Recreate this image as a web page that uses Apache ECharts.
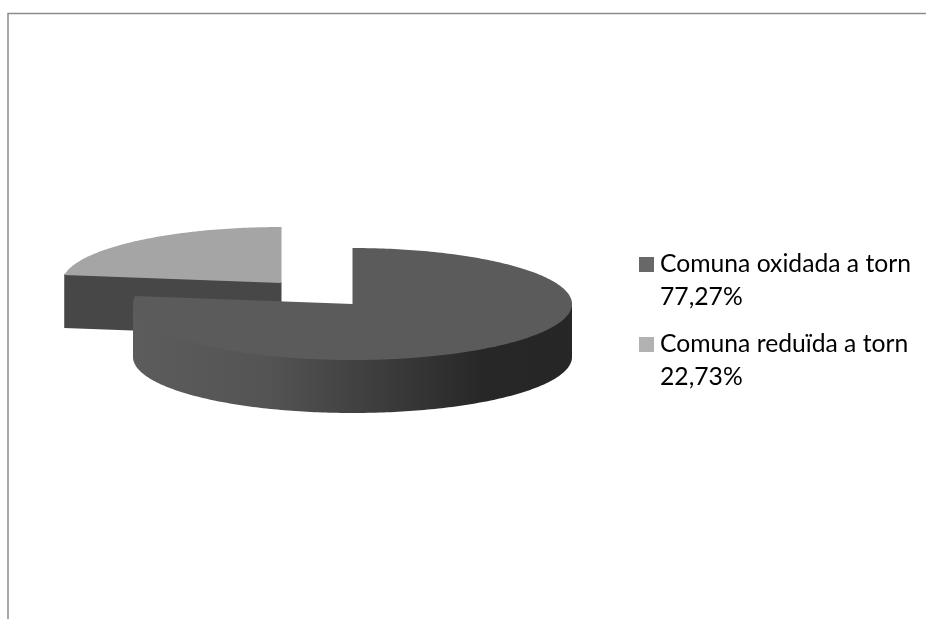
<!DOCTYPE html>
<html>
<head>
<meta charset="utf-8">
<style>html,body{margin:0;padding:0;background:#fff}#c{width:926px;height:619px}</style>
<script src="https://cdn.jsdelivr.net/npm/echarts@6/dist/echarts.min.js"></script>
</head>
<body>
<div id="c"></div>
<script>
var categories = ['Comuna oxidada a torn', 'Comuna reduïda a torn'];
var percentLabels = ['77,27%', '22,73%'];
var values = [77.27, 22.73];

var total = values[0] + values[1];
var rx = 219.5, ry = 56, depth = 53;
var slices = [
  {cx: 352.5, cy: 304, from: 0, top: '#5b5b5b', legend: '#686868'},
  {cx: 281.5, cy: 283, from: values[0] / total * 360, top: '#a5a5a5', legend: '#b2b2b2'}
];
var wallFill = new echarts.graphic.LinearGradient(135, 0, 572, 0, [
  {offset: 0, color: '#5c5c5c'}, {offset: 0.3, color: '#545454'},
  {offset: 0.5, color: '#424242'}, {offset: 0.8, color: '#272727'}, {offset: 1, color: '#262626'}
], true);

function rim(s, deg, dy) {
  var a = deg * Math.PI / 180;
  return [s.cx + rx * Math.sin(a), s.cy - ry * Math.cos(a) + (dy || 0)];
}
function arc(s, a0, a1, dy) {
  var pts = [], n = Math.max(2, Math.ceil(Math.abs(a1 - a0)));
  for (var i = 0; i <= n; i++) pts.push(rim(s, a0 + (a1 - a0) * i / n, dy));
  return pts;
}
function makeRender(idx) {
  return function (params, api) {
    var s = slices[idx];
    var sweep = api.value(0) / total * 360;
    var start = s.from, end = start + sweep;
    var children = [];
    // front-facing curved wall: clockwise angle between 90 and 270
    var w0 = Math.max(start, 90), w1 = Math.min(end, 270);
    if (w1 > w0) {
      children.push({type: 'polygon', shape: {points: arc(s, w0, w1, -2).concat(arc(s, w1, w0, depth))},
        style: {fill: wallFill}});
    }
    // radial cut facing the viewer at the start of the small slice
    if (idx === 1) {
      var e = rim(s, start);
      children.push({type: 'polygon',
        shape: {points: [[e[0], e[1] - 1], [s.cx, s.cy - 1], [s.cx, s.cy + depth], [e[0], e[1] + depth]]},
        style: {fill: '#474747'}});
    }
    children.push({type: 'polygon',
      shape: {points: [[s.cx, s.cy]].concat(arc(s, start, end))},
      style: {fill: s.top}});
    return {type: 'group', children: children};
  };
}

var chart = echarts.init(document.getElementById('c'), null, {renderer: 'canvas'});
chart.setOption({
  animation: false,
  backgroundColor: '#fff',
  legend: {
    orient: 'vertical', left: 634, top: 243, itemGap: 14,
    itemWidth: 16, itemHeight: 66, selectedMode: false,
    icon: 'path://M0 9H15V24H0Z M0 0L0 0 M16 66L16 66',
    data: categories,
    formatter: function (name) { return name + '\n' + percentLabels[categories.indexOf(name)]; },
    textStyle: {fontFamily: 'Lato', fontSize: 24.7, lineHeight: 33, color: '#000'}
  },
  graphic: [{
    type: 'polyline', silent: true,
    shape: {points: [[8, 619], [8, 13.5], [926, 13.5]]},
    style: {fill: null, stroke: '#8c8c8c', lineWidth: 1.5}
  }],
  series: [1, 0].map(function (i) {
    return {
      type: 'custom', name: categories[i], coordinateSystem: 'none', silent: true,
      itemStyle: {color: slices[i].legend},
      renderItem: makeRender(i),
      data: [[values[i]]]
    };
  })
});
</script>
</body>
</html>
